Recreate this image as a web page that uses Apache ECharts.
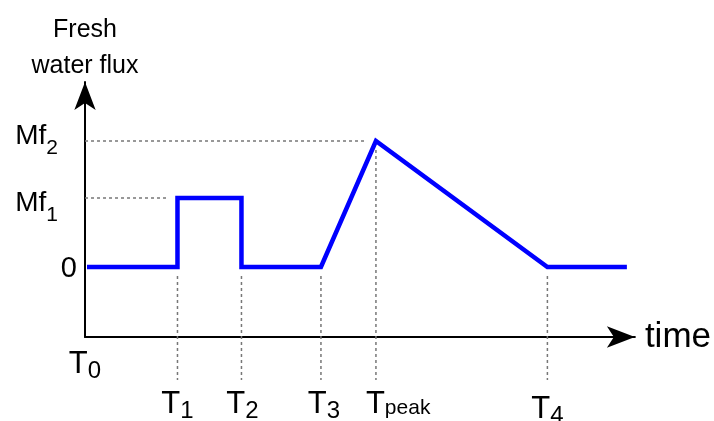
<!DOCTYPE html>
<html><head><meta charset="utf-8">
<script src="https://cdn.jsdelivr.net/npm/echarts@6/dist/echarts.min.js"></script>
<style>html,body{margin:0;padding:0;background:#fff}#c{width:714px;height:421px}</style>
</head><body><div id="c"></div>
<script>
// ---- data ----
const lineTimes = [0.2, 9.25, 9.25, 15.65, 15.65, 23.6, 29.1, 46.25, 54.2];
const lineFlux  = [0, 0, 69, 69, 0, 0, 126, 0, 0];
const tickTimes = [0, 9.25, 15.65, 23.6, 29.1, 46.25];
const tickMain  = ['T', 'T', 'T', 'T', 'T', 'T'];
const tickSub   = ['0', '1', '2', '3', 'peak', '4'];
const levelValues = [0, 69, 126];
const levelMain   = ['0', 'Mf', 'Mf'];
const levelSub    = ['', '1', '2'];
const levelTickIndex = [null, 1, 4];
const xAxisName = 'time';
const yAxisName = 'Fresh\nwater flux';

// ---- styling / layout ----
const FONT = '"Liberation Sans", Arial, sans-serif';
const GUIDE = { color: '#777', width: 1.5, type: [3, 3] };
const tickLabelY = [-101, -141, -141, -141, -141, -146];
const tickLabelDx = [0, 0, 1, 3, 0, 0];
const levelLabelX = [-0.8, -2.7, -2.7];
const levelLabelDy = [2, 14, 4];

function fluxAt(t) {
  let m = Infinity;
  lineTimes.forEach((x, i) => { if (Math.abs(x - t) < 1e-6) m = Math.min(m, lineFlux[i]); });
  return m === Infinity ? 0 : m;
}

const series = [];
series.push({
  type: 'line', data: lineTimes.map((t, i) => [t, lineFlux[i]]),
  symbol: 'none', z: 5, clip: false, silent: true,
  lineStyle: { color: '#0000ff', width: 4.5, join: 'miter', cap: 'butt' }
});
// horizontal guides
levelValues.forEach((v, i) => {
  if (levelTickIndex[i] == null) return;
  series.push({
    type: 'line', data: [[-1.8, v], [tickTimes[levelTickIndex[i]] - 1.0, v]],
    symbol: 'none', clip: false, silent: true, z: 2, lineStyle: GUIDE
  });
});
// vertical guides
tickTimes.forEach((t, i) => {
  if (i === 0) return;
  series.push({
    type: 'line', data: [[t, fluxAt(t) - 9], [t, -113]],
    symbol: 'none', clip: false, silent: true, z: 2, lineStyle: GUIDE
  });
});
const base = { color: '#000', fontFamily: FONT, textBorderWidth: 0, textBorderColor: 'transparent', verticalAlign: 'bottom', opacity: 1 };
const rich = {
  m: Object.assign({}, base, { fontSize: 31, lineHeight: 31, padding: [0, 0, 4, 0] }),
  s: Object.assign({}, base, { fontSize: 24, lineHeight: 24 }),
  p: Object.assign({}, base, { fontSize: 21, lineHeight: 21, padding: [0, 0, 5, 0] }),
  M: Object.assign({}, base, { fontSize: 28, lineHeight: 28, padding: [0, 0, 9, 0] }),
  S: Object.assign({}, base, { fontSize: 21, lineHeight: 21 }),
  z: Object.assign({}, base, { fontSize: 29, lineHeight: 29 })
};
const labelBase = { show: true, position: 'inside', color: '#000', opacity: 1, textBorderWidth: 0, textBorderColor: 'transparent', rich: rich };
// tick labels
series.push({
  type: 'scatter', symbolSize: 0, clip: false, silent: true, z: 6,
  itemStyle: { color: '#000', opacity: 1 },
  data: tickTimes.map((t, i) => ({
    value: [t, tickLabelY[i]],
    label: Object.assign({}, labelBase, {
      align: tickSub[i] === 'peak' ? 'left' : 'center',
      offset: [tickSub[i] === 'peak' ? -10 : tickLabelDx[i], 0],
      formatter: '{m|' + tickMain[i] + '}{' + (tickSub[i] === 'peak' ? 'p' : 's') + '|' + tickSub[i] + '}'
    })
  }))
});
// level labels
series.push({
  type: 'scatter', symbolSize: 0, clip: false, silent: true, z: 6,
  itemStyle: { color: '#000', opacity: 1 },
  data: levelValues.map((v, i) => ({
    value: [levelLabelX[i], v],
    label: Object.assign({}, labelBase, {
      align: 'right', offset: [0, levelLabelDy[i]],
      formatter: levelSub[i] ? '{M|' + levelMain[i] + '}{S|' + levelSub[i] + '}' : '{z|' + levelMain[i] + '}'
    })
  }))
});

const chart = echarts.init(document.getElementById('c'), null, { renderer: 'canvas' });
chart.setOption({
  animation: false,
  backgroundColor: '#fff',
  grid: { left: 85, right: 79, top: 82, bottom: 84 },
  xAxis: {
    type: 'value', min: 0, max: 55,
    axisLine: { show: true, onZero: false, symbol: ['none', 'arrow'], symbolSize: [16, 28],
      lineStyle: { color: '#000', width: 2 } },
    axisTick: { show: false }, axisLabel: { show: false }, splitLine: { show: false },
    name: xAxisName, nameLocation: 'end', nameGap: 10,
    nameTextStyle: { fontSize: 35, color: '#000', fontFamily: FONT, align: 'left', verticalAlign: 'middle', padding: [0, 0, 0, 0] }
  },
  yAxis: {
    type: 'value', min: -70, max: 185,
    axisLine: { show: true, onZero: false, symbol: ['none', 'arrow'], symbolSize: [16, 28],
      lineStyle: { color: '#000', width: 2 } },
    axisTick: { show: false }, axisLabel: { show: false }, splitLine: { show: false },
    name: yAxisName, nameLocation: 'end', nameGap: -2,
    nameTextStyle: { fontSize: 25, lineHeight: 36, color: '#000', fontFamily: FONT, align: 'center', verticalAlign: 'bottom' }
  },
  series: series
});
</script></body></html>
